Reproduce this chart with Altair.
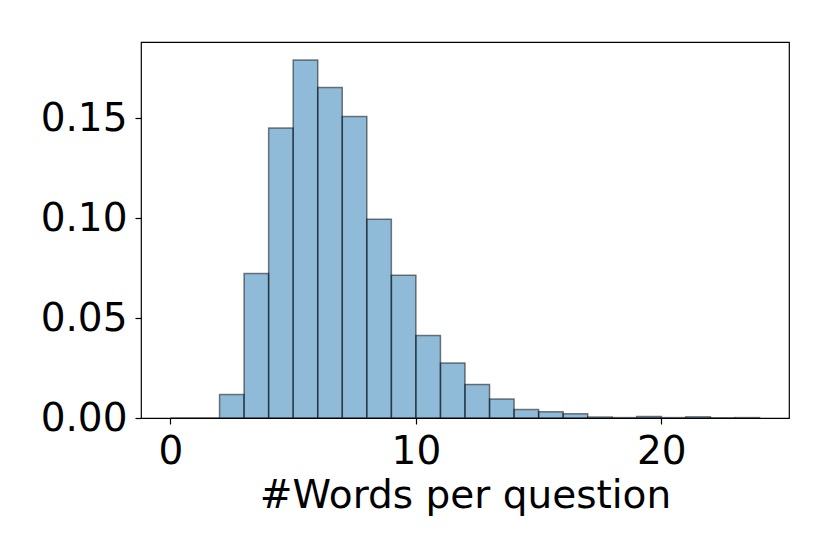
import altair as alt
import pandas as pd

bin_start = list(range(0, 24))
density = [0.0, 0.0, 0.0117, 0.0723, 0.1450, 0.1790, 0.1653, 0.1508, 0.0994, 0.0714,
           0.0413, 0.0275, 0.0168, 0.0095, 0.0042, 0.0031, 0.0021, 0.0005, 0.0002, 0.0008,
           0.0002, 0.0006, 0.0001, 0.0002]

df = pd.DataFrame({
    "start": bin_start,
    "end": [b + 1 for b in bin_start],
    "density": density,
})

FS = 39

chart = alt.Chart(df).mark_rect(
    fill="#1f77b4", fillOpacity=0.5, stroke="black", strokeOpacity=0.5, strokeWidth=1.5
).encode(
    x=alt.X("start:Q", scale=alt.Scale(domain=[-1.2, 25.2], nice=False, zero=False),
            axis=alt.Axis(values=[0, 10, 20], format="d", title="#Words per question",
                          grid=False, domain=False, tickColor="black", tickSize=6, tickWidth=1.2,
                          labelFontSize=FS, labelColor="black", labelFont="DejaVu Sans",
                          labelPadding=8, labelFlush=False,
                          titleFontSize=FS, titleFont="DejaVu Sans", titleFontWeight="normal",
                          titleColor="black", titleBaseline="alphabetic", titleY=89,
                          titleX=324)),
    x2="end:Q",
    y=alt.Y("density:Q", scale=alt.Scale(domain=[0, 0.188], nice=False),
            axis=alt.Axis(values=[0, 0.05, 0.10, 0.15], format=".2f", title=None,
                          grid=False, domain=False, tickColor="black", tickSize=6, tickWidth=1.2,
                          labelFontSize=FS, labelColor="black", labelFont="DejaVu Sans",
                          labelPadding=8, labelFlush=False)),
    y2=alt.datum(0),
).properties(
    width=648, height=376,
    autosize=alt.AutoSizeParams(type="none"),
    padding={"left": 133, "top": 34, "right": 25, "bottom": 120},
).configure_view(
    stroke="black", strokeWidth=1.2
)

chart.save("out.html", embed_options={"renderer": "svg", "actions": False})
